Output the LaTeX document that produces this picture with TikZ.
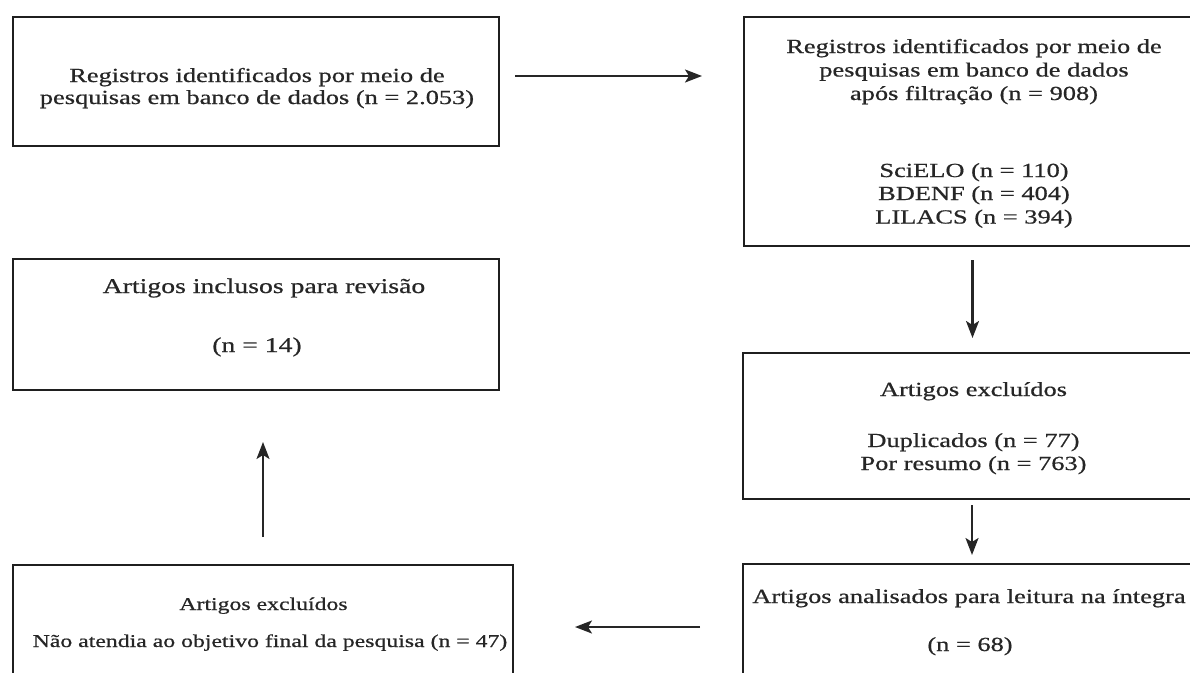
\documentclass[tikz,border=0pt]{standalone}
\usepackage{fontspec}
\setmainfont{Liberation Serif}[FakeStretch=1.32,FakeBold=0.7]
\usetikzlibrary{arrows.meta}
\begin{document}
\begin{tikzpicture}[x=1pt,y=-1pt,
  box/.style={draw=black!88, line width=2.3pt, inner sep=0pt, outer sep=0pt, rectangle},
  arr/.style={draw=black!85, line width=2.2pt, -{Stealth[length=17pt,width=13pt,inset=4pt]}},
  txt/.style={anchor=base, inner sep=0pt, text=black!85, font=\fontsize{20}{24}\selectfont},
  txtl/.style={txt, font=\fontsize{21}{25}\selectfont},
  txts/.style={txt, font=\fontsize{18}{22}\selectfont}]
\useasboundingbox (0,0) rectangle (1190,672);
\clip (0,0) rectangle (1190,672);
% boxes
\node[box, minimum width=486pt, minimum height=129pt] (B1) at (256,81.5) {};
\node[box, minimum width=460pt, minimum height=229pt] (B2) at (974,131.5) {};
\node[box, minimum width=486pt, minimum height=131pt] (B3) at (256,324.5) {};
\node[box, minimum width=461pt, minimum height=146pt] (B4) at (973.5,426) {};
\node[box, minimum width=500pt, minimum height=140pt] (B5) at (263,635) {};
\node[box, minimum width=457pt, minimum height=140pt] (B6) at (971.5,634) {};
% texts
\node[txt] (t1a) at (257,82) {Registros identificados por meio de};
\node[txt] (t1b) at (257,104) {pesquisas em banco de dados (n = 2.053)};
\node[txt] (t2a) at (974,53) {Registros identificados por meio de};
\node[txt] (t2b) at (974,76.5) {pesquisas em banco de dados};
\node[txt] (t2c) at (974,100) {após filtração (n = 908)};
\node[txt] (t2d) at (974,177) {SciELO (n = 110)};
\node[txt] (t2e) at (974,200) {BDENF (n = 404)};
\node[txt] (t2f) at (974,223.5) {LILACS (n = 394)};
\node[txtl] (t3a) at (264,293) {Artigos inclusos para revisão};
\node[txtl] (t3b) at (257,352) {(n = 14)};
\node[txt] (t4a) at (973.5,396) {Artigos excluídos};
\node[txt] (t4b) at (973.5,447) {Duplicados (n = 77)};
\node[txt] (t4c) at (973.5,470) {Por resumo (n = 763)};
\node[txts] (t5a) at (263.5,610) {Artigos excluídos};
\node[txts] (t5b) at (270,647) {Não atendia ao objetivo final da pesquisa (n = 47)};
\node[txt] (t6a) at (969,603) {Artigos analisados para leitura na íntegra};
\node[txt] (t6b) at (970,651) {(n = 68)};
% arrows
\coordinate (c5) at (263,565);
\draw[arr, shorten <=16pt, shorten >=42pt] ([yshift=5.5pt]B1.east) -- ([yshift=5.5pt]B1.east -| B2.west);
\draw[arr, shorten <=14pt, shorten >=15pt] ([xshift=-1.5pt]B2.south) -- ([xshift=-1.5pt]B2.south |- B4.north);
\draw[arr, shorten <=6pt, shorten >=9pt] ([xshift=-1.5pt]B4.south) -- ([xshift=-1.5pt]B4.south |- B6.north);
\draw[arr, shorten <=43pt, shorten >=62pt] (B6.west |- 0,627) -- (B5.east |- 0,627);
\draw[arr, shorten <=28pt, shorten >=52pt] (B5.north) -- (B5.north |- B3.south);
\end{tikzpicture}
\end{document}
